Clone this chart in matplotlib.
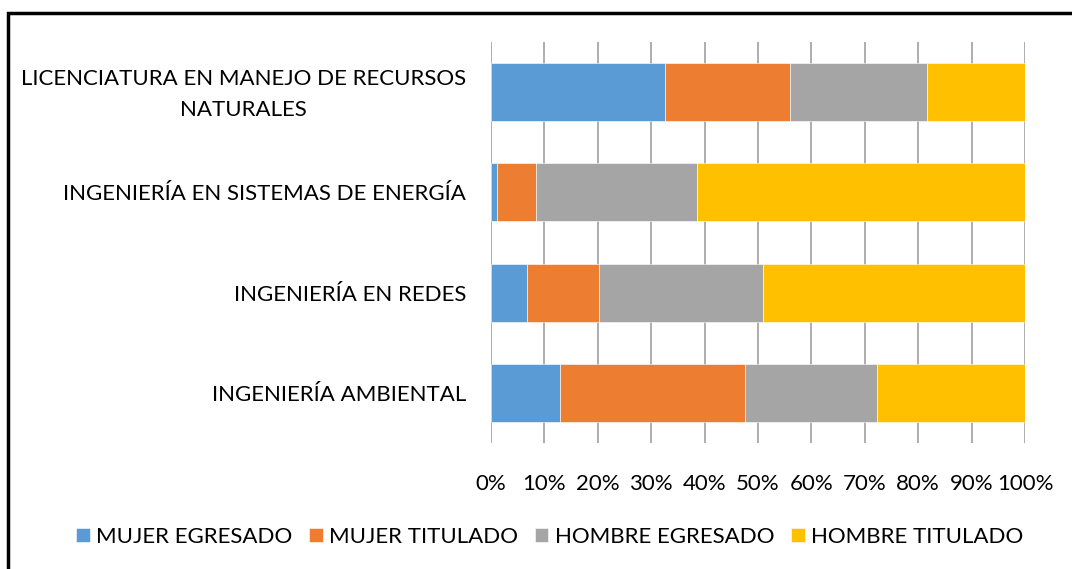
import matplotlib
matplotlib.use('Agg')

import numpy as np
from matplotlib import pyplot as plt
from matplotlib.patches import Rectangle
from matplotlib.transforms import ScaledTranslation


# Datos (porcentajes, de abajo hacia arriba)
carreras = ['INGENIERÍA AMBIENTAL',
            'INGENIERÍA EN REDES',
            'INGENIERÍA EN SISTEMAS DE ENERGÍA',
            'LICENCIATURA EN MANEJO DE RECURSOS\nNATURALES']

mujer_egresado = [12.9, 6.7, 1.1, 32.6]
mujer_titulado = [34.7, 13.5, 7.3, 23.4]
hombre_egresado = [24.7, 30.7, 30.2, 25.6]
hombre_titulado = [27.7, 49.1, 61.4, 18.4]

series = ['MUJER EGRESADO', 'MUJER TITULADO', 'HOMBRE EGRESADO', 'HOMBRE TITULADO']
colores = ['#5B9BD5', '#ED7D31', '#A5A5A5', '#FFC000']

plt.rcParams['font.family'] = ['Lato', 'DejaVu Sans']
TAM = 16

fig = plt.figure(figsize=(10.72, 5.69), dpi=100)
ax = fig.add_axes([491/1072, 1 - 443/569, 534/1072, 401/569])

y = np.arange(len(carreras))
valores = [mujer_egresado, mujer_titulado, hombre_egresado, hombre_titulado]
izq = np.zeros(len(carreras))
for nombre, vals, color in zip(series, valores, colores):
    vals = np.array(vals)
    ax.barh(y, vals, left=izq, height=0.58, color=color, label=nombre,
            edgecolor='white', linewidth=0.4, zorder=3)
    izq = izq + vals

ax.set_xlim(0, 100)
ax.set_ylim(-0.5, 3.5)
ax.set_xticks(np.arange(0, 101, 10))
ax.set_xticklabels([str(v) + '%' for v in range(0, 101, 10)], fontsize=TAM)
ax.set_yticks(y)
ax.set_yticklabels(carreras, fontsize=TAM, multialignment='center', linespacing=1.7)
ax.tick_params(axis='both', length=0, colors='#000000')
ax.tick_params(axis='x', pad=22)
ax.tick_params(axis='y', pad=18)
ax.grid(axis='x', color='#A0A0A0', linewidth=1.2, zorder=0)
for s in ax.spines.values():
    s.set_visible(False)

# La etiqueta de dos líneas queda un poco baja: subirla unos píxeles
for lab in ax.get_yticklabels():
    if '\n' in lab.get_text():
        lab.set_transform(lab.get_transform() + ScaledTranslation(0, 0.05, fig.dpi_scale_trans))

# Leyenda inferior
fig.legend(loc='center', bbox_to_anchor=(550/1072, 1 - 537/569), ncol=4,
           frameon=False, fontsize=TAM, handlelength=0.6, handleheight=0.6,
           handletextpad=0.3, columnspacing=0.75)

# Marco negro (solo se ven borde izquierdo y superior)
marco = Rectangle((8/1072, -0.1), 1.2, (569 - 13)/569 + 0.1, transform=fig.transFigure,
                  fill=False, edgecolor='black', linewidth=2.5)
fig.patches.append(marco)

plt.savefig('out.png', dpi=100)
